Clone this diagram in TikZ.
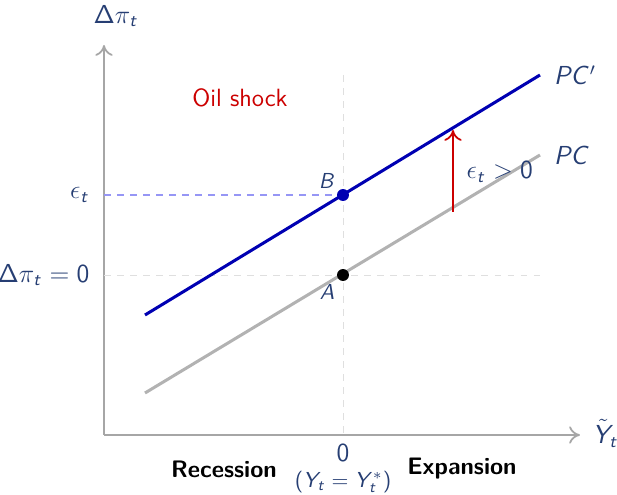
\documentclass[tikz,border=0pt]{standalone}
\usepackage{amsmath}
\usetikzlibrary{arrows.meta, positioning, calc}
% sans serif math letters, as on a slide
\DeclareSymbolFont{sfit}{OT1}{cmss}{m}{sl}
\DeclareSymbolFont{sfup}{OT1}{cmss}{m}{n}
\DeclareMathSymbol{A}{\mathalpha}{sfit}{`A}
\DeclareMathSymbol{B}{\mathalpha}{sfit}{`B}
\DeclareMathSymbol{C}{\mathalpha}{sfit}{`C}
\DeclareMathSymbol{P}{\mathalpha}{sfit}{`P}
\DeclareMathSymbol{Y}{\mathalpha}{sfit}{`Y}
\DeclareMathSymbol{t}{\mathalpha}{sfit}{`t}
\DeclareMathSymbol{0}{\mathalpha}{sfup}{`0}
\DeclareMathSymbol{(}{\mathopen}{sfup}{`(}
\DeclareMathSymbol{)}{\mathclose}{sfup}{`)}
\DeclareMathSymbol{\Delta}{\mathalpha}{sfup}{"01}
\definecolor{navy}{RGB}{38,62,115}
\definecolor{shockred}{RGB}{204,0,0}
\definecolor{pcblue}{RGB}{0,0,178}
\definecolor{epsblue}{RGB}{150,150,245}
\tikzset{
    axis/.style={-{To[length=5pt,width=8pt]}, thick, gray!70},
    curve/.style={line width=1.4pt},
    guide/.style={dashed, gray!25},
    dot/.style={circle, inner sep=0pt, minimum size=5.5pt},
    lbl/.style={text=navy, font=\large},
    small lbl/.style={text=navy},
    region/.style={font=\sffamily\bfseries\fontsize{11}{13}\selectfont}
}

\begin{document}
\begin{tikzpicture}[x=0.162mm, y=-0.162mm]
        \useasboundingbox (0,0) rectangle (617,495);
        % axes
        \coordinate (O) at (104,435);
        \coordinate (ytop) at (104,45);
        \coordinate (xend) at (580,435);
        \draw [axis] (O) -- (ytop);
        \draw [axis] (O) -- (xend);
        \node [lbl] (ylab) at (116,16) {$\Delta\pi_t$};
        \node [lbl, anchor=west, inner sep=1pt] (xlab) at (590,433) {$\tilde{Y}_t$};
        % guides
        \coordinate (A) at (343,275);
        \coordinate (B) at (343,195);
        \coordinate (vtop) at (343,75);
        \coordinate (vbot) at (343,435);
        \coordinate (hzero) at (104,275);
        \coordinate (hzeroend) at (540,275);
        \coordinate (heps) at (104,195);
        \draw [guide] (vtop) -- (vbot);
        \draw [guide] (hzero) -- (hzeroend);
        \draw [dashed, epsblue, line width=0.6pt] (heps) -- (B);
        % Phillips curves
        \coordinate (pc0) at (145,393);
        \coordinate (pc1) at (540,155);
        \coordinate (pcs0) at (145,315);
        \coordinate (pcs1) at (540,75);
        \draw [curve, gray!60] (pc0) -- (pc1);
        \draw [curve, pcblue] (pcs0) -- (pcs1);
        \node [lbl, right=3pt of pc1] (pclab) {$PC$};
        \node [lbl, right=3pt of pcs1] (pcslab) {$PC'$};
        % shock
        \coordinate (s0) at (453,212);
        \coordinate (s1) at (453,130);
        \draw [-{To[length=5pt,width=8pt]}, thick, shockred] (s0) -- (s1);
        \node [lbl, anchor=west] (epslab) at (459,172) {$\epsilon_t > 0$};
        \node [text=shockred, font=\sffamily\fontsize{11.5}{13}\selectfont] (oil) at (240,98) {Oil shock};
        % points
        \node [dot, fill=pcblue] (Bdot) at (B) {};
        \node [dot, fill=black] (Adot) at (A) {};
        \node [small lbl] (Blab) at (327,181) {$B$};
        \node [small lbl] (Alab) at (327,292) {$A$};
        % tick labels
        \node [lbl, anchor=east] (epstick) at (97,195) {$\epsilon_t$};
        \node [lbl, anchor=east] (zerotick) at (97,275) {$\Delta\pi_t = 0$};
        \node [lbl] (xzero) at (343,453) {$0$};
        \node [small lbl] (pot) at (343,482) {$(Y_t = Y_t^*)$};
        \node [region] (rec) at (224,469) {Recession};
        \node [region] (exp) at (462,469) {Expansion};
    \end{tikzpicture}
\end{document}
